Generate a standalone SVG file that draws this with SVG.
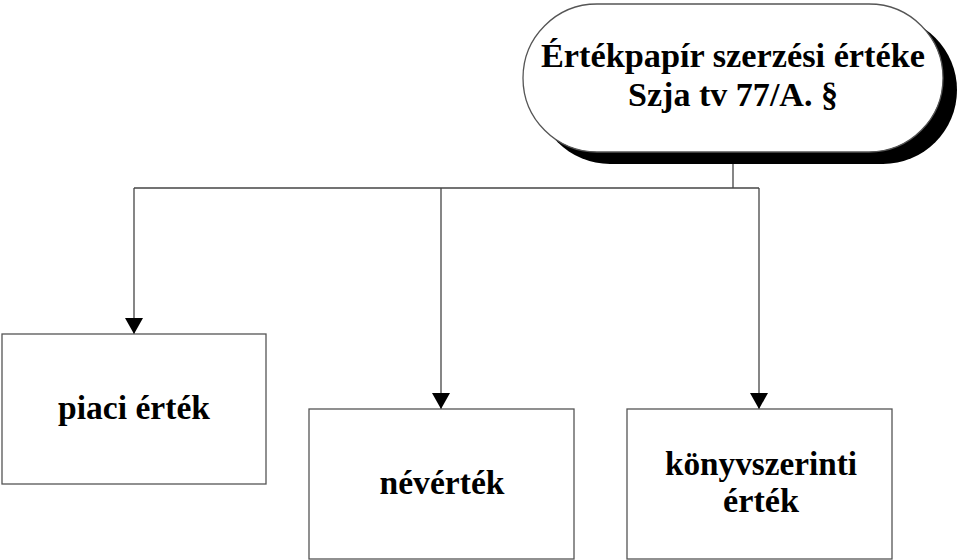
<svg xmlns="http://www.w3.org/2000/svg" width="960" height="560" viewBox="0 0 960 560">
<defs>
<style>
.box{fill:#fff;stroke:#555;stroke-width:1.3}
.t{font-family:"Liberation Serif","Times New Roman",serif;font-weight:bold;font-size:34px;fill:#000;text-anchor:middle}
.c{fill:none;stroke:#444;stroke-width:1.3}
</style>
<marker id="ah" viewBox="0 0 16 18" refX="16" refY="9" markerWidth="16" markerHeight="18" markerUnits="userSpaceOnUse" orient="auto">
<path d="M0,0 L16,9 L0,18 Z" fill="#000"/>
</marker>
</defs>
<rect width="960" height="560" fill="#fff"/>
<g id="connectors">
<path class="c" d="M733,162 V188"/>
<path class="c" d="M134,188 H759"/>
<path class="c" d="M134,188 V334" marker-end="url(#ah)"/>
<path class="c" d="M441,188 V409" marker-end="url(#ah)"/>
<path class="c" d="M759,188 V409" marker-end="url(#ah)"/>
</g>
<g id="top">
<rect x="536" y="16" width="421" height="148" rx="74" fill="#000"/>
<rect class="box" x="523" y="4" width="420" height="148" rx="74"/>
<text class="t" x="733" y="67" textLength="384" lengthAdjust="spacingAndGlyphs">Értékpapír szerzési értéke</text>
<text class="t" x="733" y="106" textLength="210" lengthAdjust="spacingAndGlyphs">Szja tv 77/A. §</text>
</g>
<g id="piaci">
<rect class="box" x="2" y="334" width="264" height="150"/>
<text class="t" x="134" y="419" textLength="152" lengthAdjust="spacingAndGlyphs">piaci érték</text>
</g>
<g id="nevertek">
<rect class="box" x="309" y="409" width="265" height="150"/>
<text class="t" x="442" y="494" textLength="125" lengthAdjust="spacingAndGlyphs">névérték</text>
</g>
<g id="konyv">
<rect class="box" x="627" y="409" width="265" height="150"/>
<text class="t" x="761" y="475" textLength="192" lengthAdjust="spacingAndGlyphs">könyvszerinti</text>
<text class="t" x="761" y="512" textLength="76" lengthAdjust="spacingAndGlyphs">érték</text>
</g>
</svg>
